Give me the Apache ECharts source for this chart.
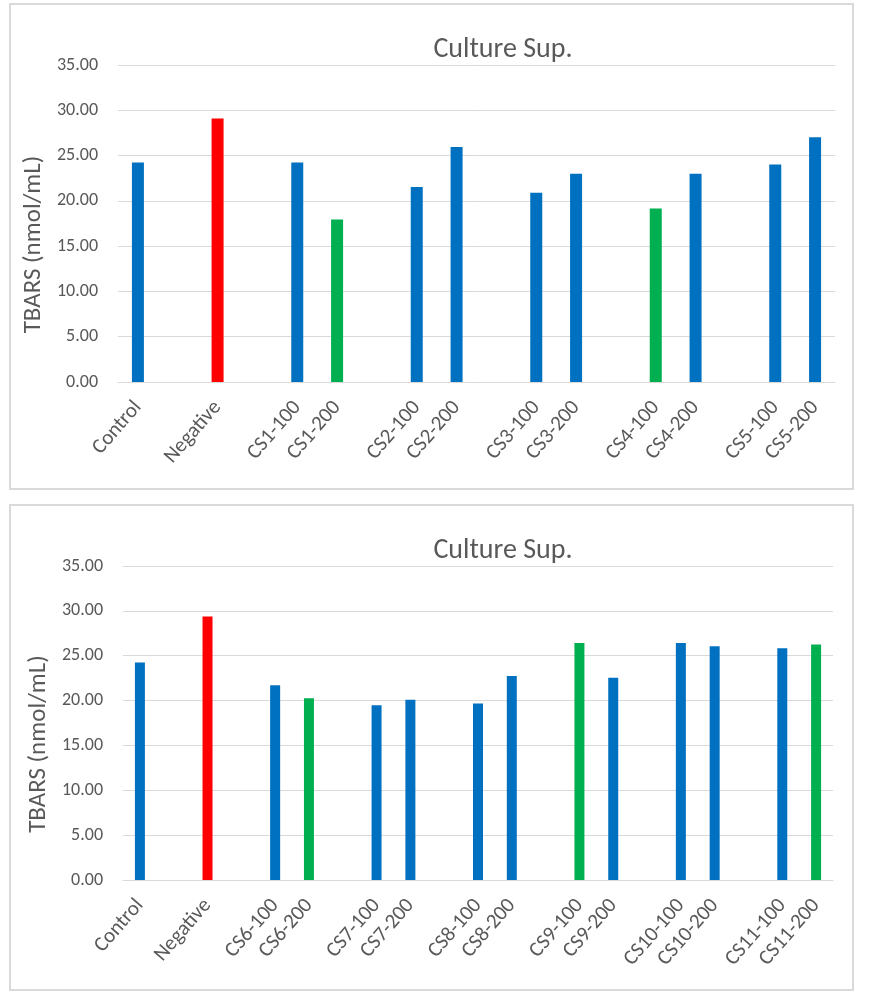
<!DOCTYPE html>
<html>
<head>
<meta charset="utf-8">
<script src="https://cdn.jsdelivr.net/npm/echarts@6/dist/echarts.min.js"></script>
<style>
  html, body { margin: 0; padding: 0; background: #ffffff; }
  #wrap { position: relative; width: 874px; height: 1004px; overflow: hidden; }
  .panel { position: absolute; border: 2px solid #d9d9d9; box-sizing: border-box; background: #fff; }
  #chart { position: absolute; left: 0; top: 0; width: 874px; height: 1004px; }
</style>
</head>
<body>
<div id="wrap">
  <div class="panel" style="left:9px; top:3px; width:845px; height:487px;"></div>
  <div class="panel" style="left:9px; top:504px; width:845px; height:487px;"></div>
  <div id="chart"></div>
</div>
<script>
// ---------- data ----------
const chartTitle = 'Culture Sup.';
const yAxisName = 'TBARS (nmol/mL)';
const yTicks = [0, 5, 10, 15, 20, 25, 30, 35];

// '' entries are the empty gap categories of the original sheet
const topCategories = ['Control', '', 'Negative', '', 'CS1-100', 'CS1-200', '', 'CS2-100', 'CS2-200', '', 'CS3-100', 'CS3-200', '', 'CS4-100', 'CS4-200', '', 'CS5-100', 'CS5-200'];
const topValues     = [24.24, null, 29.10, null, 24.24, 17.94, null, 21.52, 25.94, null, 20.89, 22.99, null, 19.16, 22.99, null, 24.02, 27.01];
const topGreen      = ['CS1-200', 'CS4-100'];

const bottomCategories = ['Control', '', 'Negative', '', 'CS6-100', 'CS6-200', '', 'CS7-100', 'CS7-200', '', 'CS8-100', 'CS8-200', '', 'CS9-100', 'CS9-200', '', 'CS10-100', 'CS10-200', '', 'CS11-100', 'CS11-200'];
const bottomValues     = [24.23, null, 29.37, null, 21.72, 20.27, null, 19.49, 20.08, null, 19.67, 22.75, null, 26.43, 22.53, null, 26.43, 26.06, null, 25.84, 26.24];
const bottomGreen      = ['CS6-200', 'CS9-100', 'CS11-200'];

const negativeNames = ['Negative'];

// ---------- styles ----------
const FONT = "Carlito, 'Liberation Sans Narrow', 'Open Sans', sans-serif";
const TXT = '#595959';
const GRID = '#d9d9d9';
const BLUE = '#0070C0', RED = '#FF0000', GREEN = '#00B050';

function colorFor(name, greens) {
  if (negativeNames.includes(name)) return RED;
  if (greens.includes(name)) return GREEN;
  return BLUE;
}
function barData(cats, vals, greens) {
  return vals.map((v, i) => v == null ? '-' : ({ value: v, itemStyle: { color: colorFor(cats[i], greens) } }));
}
function xAxisFor(idx, cats) {
  return {
    type: 'category', gridIndex: idx, data: cats,
    axisTick: { show: false },
    axisLine: { lineStyle: { color: GRID, width: 1 } },
    axisLabel: { interval: 0, rotate: 49, margin: 22, color: TXT, fontSize: 21, fontFamily: FONT }
  };
}
function yAxisFor(idx, gap) {
  return {
    type: 'value', gridIndex: idx, min: yTicks[0], max: yTicks[yTicks.length - 1], interval: yTicks[1] - yTicks[0],
    name: yAxisName, nameLocation: 'middle', nameGap: gap, nameRotate: 90,
    nameTextStyle: { color: TXT, fontSize: 25, fontFamily: FONT, padding: [0, 42, 0, 0] },
    axisLine: { show: false }, axisTick: { show: false },
    axisLabel: { margin: 20, color: TXT, fontSize: 18, fontFamily: FONT, formatter: v => v.toFixed(2) },
    splitLine: { lineStyle: { color: GRID, width: 1 } }
  };
}

const chart = echarts.init(document.getElementById('chart'), null, { renderer: 'canvas' });
chart.setOption({
  backgroundColor: 'transparent',
  animation: false,
  title: [
    { text: chartTitle, left: 498, top: 31, textAlign: 'center', textStyle: { color: TXT, fontSize: 28, fontWeight: 'normal', fontFamily: FONT } },
    { text: chartTitle, left: 498, top: 532, textAlign: 'center', textStyle: { color: TXT, fontSize: 28, fontWeight: 'normal', fontFamily: FONT } }
  ],
  grid: [
    { left: 118, top: 65, width: 717, height: 317 },
    { left: 123, top: 566, width: 710, height: 314 }
  ],
  xAxis: [xAxisFor(0, topCategories), xAxisFor(1, bottomCategories)],
  yAxis: [yAxisFor(0, 66), yAxisFor(1, 69)],
  series: [
    { type: 'bar', xAxisIndex: 0, yAxisIndex: 0, barWidth: 12, data: barData(topCategories, topValues, topGreen) },
    { type: 'bar', xAxisIndex: 1, yAxisIndex: 1, barWidth: 10, data: barData(bottomCategories, bottomValues, bottomGreen) }
  ]
});
</script>
</body>
</html>
